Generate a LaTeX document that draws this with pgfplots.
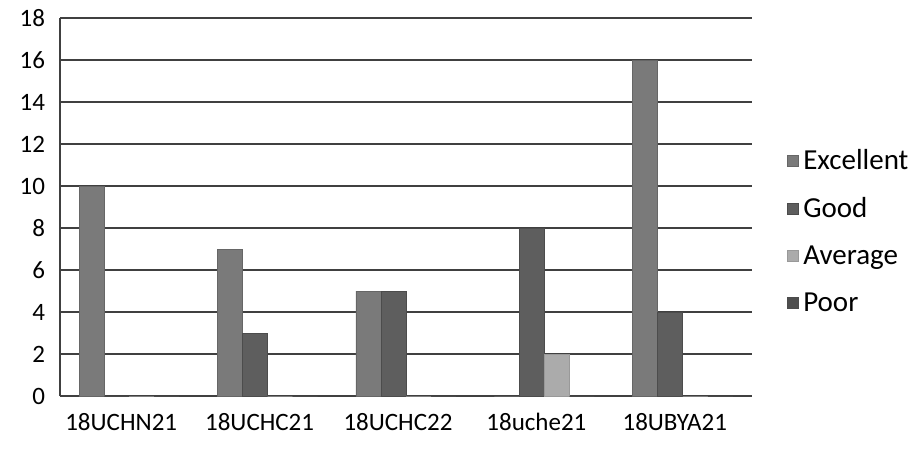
\documentclass[border=0pt]{standalone}
\usepackage{pgfplots}
\pgfplotsset{compat=1.18}
\usepackage{fontspec}
\setmainfont{Carlito}
\definecolor{cexc}{HTML}{7A7A7A}
\definecolor{cgood}{HTML}{5E5E5E}
\definecolor{cavg}{HTML}{ABABAB}
\definecolor{cpoor}{HTML}{4E4E4E}
\begin{document}
\begin{tikzpicture}
\begin{axis}[
  name=ax,
  width=346pt, height=189pt, scale only axis,
  ybar=0pt, bar width=12.5pt,
  xmin=-0.5, xmax=4.5, ymin=0, ymax=18,
  xtick={0,1,2,3,4},
  xticklabels={18UCHN21,18UCHC21,18UCHC22,18uche21,18UBYA21},
  ytick={0,2,...,18},
  ymajorgrids=true, grid style={black!75, line width=0.7pt},
  axis x line*=bottom, axis y line*=left,
  axis line style={-, black!75, line width=0.7pt},
  major tick length=0pt,
  tick label style={font=\fontsize{12.5}{14}\selectfont},
  /pgf/number format/assume math mode=true,
  xticklabel style={yshift=-5pt, xshift=-4pt},
  yticklabel style={xshift=-4pt},
  legend style={at={(1.042,0.434)}, anchor=west, draw=none, row sep=8.5pt,
    font=\fontsize{14.5}{16}\selectfont},
  legend cell align=left,
  legend image code/.code={\fill[#1] (0pt,-2.5pt) rectangle (5.5pt,3pt);},
]
\addplot[fill=cexc, draw=black!60] coordinates {(0,10) (1,7) (2,5) (3,0) (4,16)};
\addplot[fill=cgood, draw=black!70] coordinates {(0,0) (1,3) (2,5) (3,8) (4,4)};
\addplot[fill=cavg, draw=black!40] coordinates {(0,0) (1,0) (2,0) (3,2) (4,0)};
\addplot[fill=cpoor, draw=black!70] coordinates {(0,0) (1,0) (2,0) (3,0) (4,0)};
\legend{Excellent,Good,Average,Poor}
\end{axis}
\path[use as bounding box] ([xshift=-30pt,yshift=-29.5pt]ax.south west)
  rectangle ([xshift=83.5pt,yshift=9pt]ax.north east);
\end{tikzpicture}
\end{document}
